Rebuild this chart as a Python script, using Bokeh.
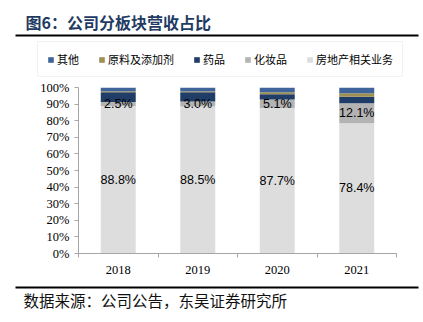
from bokeh.plotting import figure
from bokeh.layouts import column
from bokeh.models import Range1d, FixedTicker, NumeralTickFormatter, Legend, LegendItem, ColumnDataSource
from bokeh.core.properties import value
from bokeh.embed import file_html
from bokeh.resources import INLINE

# ---- data ----
years = ["2018", "2019", "2020", "2021"]
segments = ["房地产相关业务", "化妆品", "药品", "原料及添加剂", "其他"]
real_estate = [88.8, 88.5, 87.7, 78.4]
cosmetics = [2.5, 3.0, 5.1, 12.1]
pharma = [5.8, 5.7, 3.2, 4.0]
materials = [0.7, 0.5, 1.2, 2.0]
others = [2.2, 2.3, 2.8, 3.5]
y_ticks = [0, 0.1, 0.2, 0.3, 0.4, 0.5, 0.6, 0.7, 0.8, 0.9, 1.0]

colors = ["#DDDDDD", "#B3B3B3", "#1F3D66", "#9E8F55", "#3F639B"]
title_text = "图6：公司分板块营收占比"
source_text = "数据来源：公司公告，东吴证券研究所"
CJK = "Noto Sans CJK SC"
W = 423

x = [i + 0.5 for i in range(len(years))]
data = {"x": x}
series = [real_estate, cosmetics, pharma, materials, others]
for name, vals in zip(segments, series):
    data[name] = [v / 100 for v in vals]
src = ColumnDataSource(data)

# ---- title + legend strip ----
top = figure(width=W, height=80, x_range=Range1d(0, W), y_range=Range1d(80, 0),
             output_backend="svg", toolbar_location=None, min_border=0,
             outline_line_color=None, frame_align=False)
top.axis.visible = False
top.grid.visible = False
top.text(x=[25], y=[21], text=[title_text], text_font=value(CJK), text_font_style="bold",
         text_font_size="16px", text_color="#1F3B63", text_baseline="middle")
top.line(x=[15, 418], y=[35, 35], line_color="#000000", line_width=2)

# hidden copies of the series, used only as legend swatches
sw = top.vbar_stack(segments, x="x", width=0.44, color=colors, source=src, line_color=None)
for r in sw:
    r.visible = False
items = [LegendItem(label=segments[k], renderers=[sw[k]]) for k in range(len(segments) - 1, -1, -1)]
legend = Legend(items=items, orientation="horizontal", location=(37, 3),
                glyph_width=7, glyph_height=7, label_standoff=3, spacing=19,
                padding=9, margin=0, border_line_color="#E6E6E6",
                label_text_font=CJK, label_text_font_size="11px", label_text_color="#000000",
                label_height=12, background_fill_alpha=0, click_policy="none")
top.add_layout(legend)

# ---- chart ----
p = figure(width=W, height=200, x_range=Range1d(0, len(years)), y_range=Range1d(0, 1),
           output_backend="svg", toolbar_location=None,
           min_border_left=78, min_border_right=27, min_border_top=7, min_border_bottom=27,
           outline_line_color=None, frame_align=False)
p.grid.visible = False
rs = p.vbar_stack(segments, x="x", width=0.44, color=colors, source=src, line_color=None)

# labels
lx, ly, lt = [], [], []
for i in range(len(years)):
    lx.append(x[i]); ly.append(real_estate[i] / 200); lt.append(f"{real_estate[i]:.1f}%")
    lx.append(x[i]); ly.append((real_estate[i] + cosmetics[i] / 2) / 100); lt.append(f"{cosmetics[i]:.1f}%")
p.text(x=lx, y=ly, text=lt, text_font=value("Liberation Sans"), text_font_size="12.5px",
       text_align="center", text_baseline="middle", text_color="#000000")

p.yaxis.ticker = FixedTicker(ticks=y_ticks)
p.yaxis.formatter = NumeralTickFormatter(format="0%")
p.yaxis.major_tick_out = 4
p.yaxis.major_tick_in = 0
p.yaxis.minor_tick_out = 0
p.yaxis.minor_tick_in = 0

p.xaxis.ticker = FixedTicker(ticks=x, minor_ticks=list(range(len(years) + 1)))
p.xaxis.major_label_overrides = {xi: y for xi, y in zip(x, years)}
p.xaxis.major_tick_out = 0
p.xaxis.major_tick_in = 0
p.xaxis.minor_tick_out = 4
p.xaxis.minor_tick_in = 0
p.xaxis.major_label_standoff = 8

for ax in (p.xaxis, p.yaxis):
    ax.axis_line_color = "#A6A6A6"
    ax.major_tick_line_color = "#A6A6A6"
    ax.minor_tick_line_color = "#A6A6A6"
    ax.major_label_text_font = "Liberation Serif"
    ax.major_label_text_font_size = "12.5px"
    ax.major_label_text_color = "#000000"

# ---- source strip ----
bot = figure(width=W, height=42, x_range=Range1d(0, W), y_range=Range1d(42, 0),
             output_backend="svg", toolbar_location=None, min_border=0,
             outline_line_color=None, frame_align=False)
bot.axis.visible = False
bot.grid.visible = False
bot.line(x=[15, 418], y=[7, 7], line_color="#000000", line_width=2)
bot.text(x=[23], y=[19], text=[source_text], text_font=value(CJK),
         text_font_size="15.5px", text_color="#111111", text_baseline="middle")

layout = column(top, p, bot, spacing=0)
open("out.html", "w").write(file_html(layout, INLINE))
